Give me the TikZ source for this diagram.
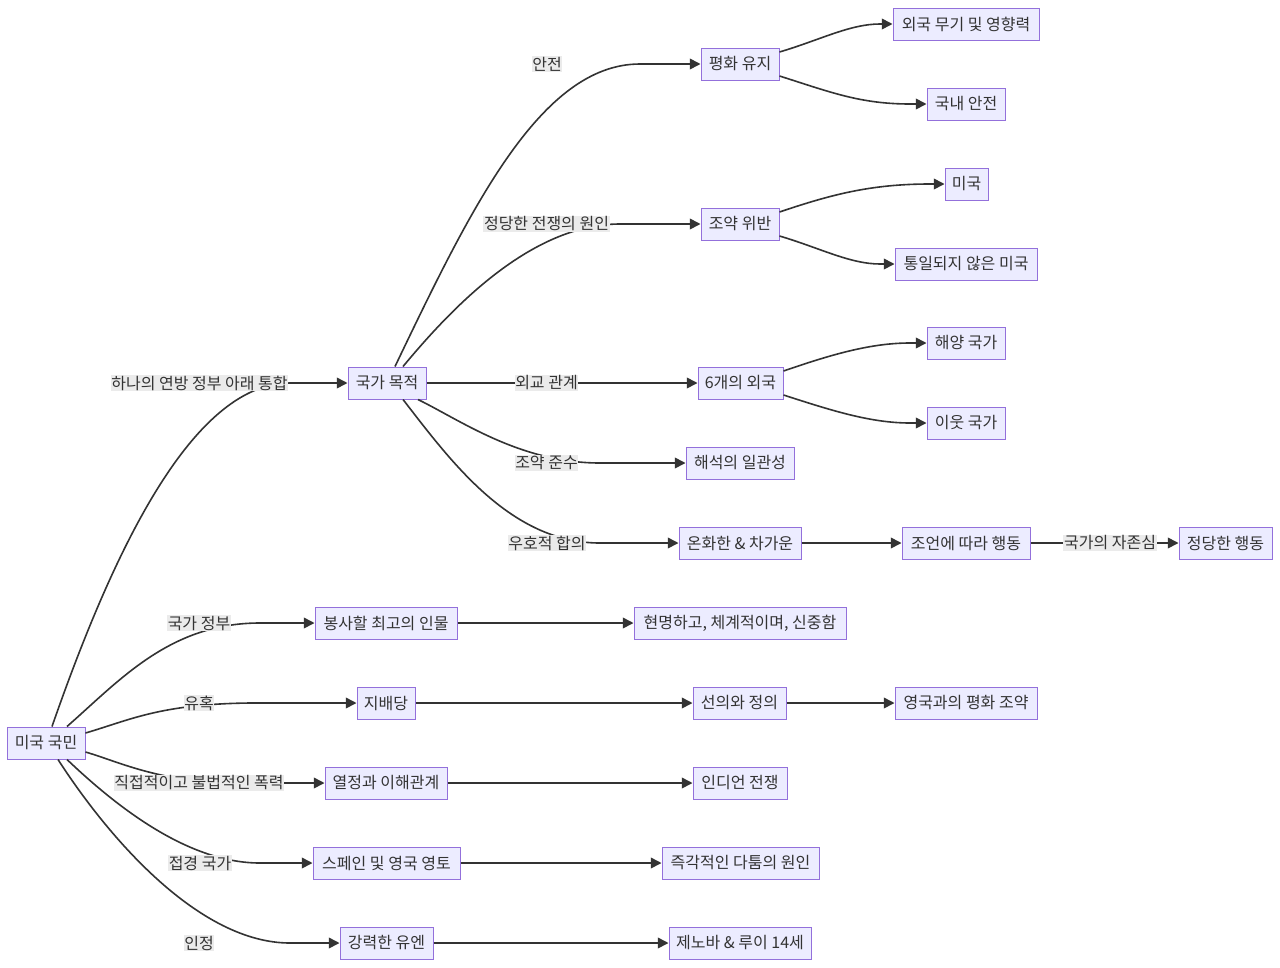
\documentclass[tikz,border=0pt]{standalone}
\usepackage{fontspec}
\setmainfont{Noto Sans CJK KR}
\usetikzlibrary{arrows.meta,calc}
\definecolor{nodefill}{HTML}{ECECFF}
\definecolor{nodeline}{HTML}{9370DB}
\definecolor{ink}{HTML}{333333}
\definecolor{lblbg}{HTML}{EBEBEB}
\tikzset{
  box/.style={draw=nodeline, fill=nodefill, line width=0.75pt, minimum height=24pt, inner sep=0pt, text=ink, font=\fontsize{12pt}{14pt}\selectfont},
  lbl/.style={fill=lblbg, inner sep=0.5pt, text=ink, font=\fontsize{12pt}{14pt}\selectfont},
  edge/.style={draw=ink, line width=1.2pt, -{Triangle[length=8pt,width=8pt]}}
}
\begin{document}
\begin{tikzpicture}[x=0.75pt,y=-0.75pt]
\useasboundingbox[fill=white] (0,0) rectangle (1280,967);
% nodes
\node[box, minimum width=58.5pt] (a) at (46,743) {미국 국민};
\node[box, minimum width=58.5pt] (b) at (387,383) {국가 목적};
\node[box, minimum width=58.5pt] (c1) at (740,64) {평화 유지};
\node[box, minimum width=109.5pt] (c1a) at (966,24) {외국 무기 및 영향력};
\node[box, minimum width=58.5pt] (c1b) at (966,104) {국내 안전};
\node[box, minimum width=58.5pt] (c2) at (740,224) {조약 위반};
\node[box, minimum width=32.25pt] (c2a) at (966.5,184) {미국};
\node[box, minimum width=106.5pt] (c2b) at (966,264) {통일되지 않은 미국};
\node[box, minimum width=63.75pt] (c3) at (740.5,383) {6개의 외국};
\node[box, minimum width=58.5pt] (c3a) at (966,343) {해양 국가};
\node[box, minimum width=58.5pt] (c3b) at (966,423) {이웃 국가};
\node[box, minimum width=81pt] (c4) at (740,463) {해석의 일관성};
\node[box, minimum width=91.5pt] (c5) at (740,543) {온화한 \& 차가운};
\node[box, minimum width=96pt] (c5a) at (966,543) {조언에 따라 행동};
\node[box, minimum width=69.75pt] (c5b) at (1225.5,543) {정당한 행동};
\node[box, minimum width=106.5pt] (d1) at (386,623) {봉사할 최고의 인물};
\node[box, minimum width=159pt] (d1a) at (740,623) {현명하고, 체계적이며, 신중함};
\node[box, minimum width=43.5pt] (e1) at (386,703) {지배당};
\node[box, minimum width=69.75pt] (e1a) at (739.5,703) {선의와 정의};
\node[box, minimum width=106.5pt] (e1b) at (966,703) {영국과의 평화 조약};
\node[box, minimum width=91.5pt] (f1) at (386,783) {열정과 이해관계};
\node[box, minimum width=70.5pt] (f1a) at (740,783) {인디언 전쟁};
\node[box, minimum width=110.25pt] (g1) at (386.5,863) {스페인 및 영국 영토};
\node[box, minimum width=117.75pt] (g1a) at (740.5,863) {즉각적인 다툼의 원인};
\node[box, minimum width=69.75pt] (h1) at (386.5,943) {강력한 유엔};
\node[box, minimum width=106.5pt] (h1a) at (740,943) {제노바 \& 루이 14세};
% edges from a
\draw[edge] ($(a.north)+(6,0)$) .. controls (110,560) and (190,383) .. (290,383) -- (b.west);
\draw[edge] ($(a.north)+(21,0)$) .. controls (120,680) and (170,623) .. (260,623) -- (d1.west);
\draw[edge] ($(a.east)+(0,-10)$) .. controls (130,720) and (160,704) .. (250,703) -- (e1.west);
\draw[edge] ($(a.east)+(0,9)$) .. controls (120,762) and (160,783) .. (240,783) -- (f1.west);
\draw[edge] ($(a.south)+(21,0)$) .. controls (120,810) and (190,863) .. (260,863) -- (g1.west);
\draw[edge] ($(a.south)+(12,0)$) .. controls (110,840) and (200,943) .. (290,943) -- (h1.west);
% edges from b
\draw[edge] ($(b.north)+(8,0)$) .. controls (470,210) and (540,64) .. (640,64) -- (c1.west);
\draw[edge] ($(b.north)+(16,0)$) .. controls (450,310) and (530,224) .. (620,224) -- (c2.west);
\draw[edge] (b.east) -- (c3.west);
\draw[edge] ($(b.south)+(31,0)$) .. controls (460,420) and (520,463) .. (600,463) -- (c4.west);
\draw[edge] ($(b.south)+(16,0)$) .. controls (450,460) and (510,543) .. (600,543) -- (c5.west);
% right side
\draw[edge] ($(c1.east)+(0,-12)$) .. controls (820,40) and (850,24) .. (880,24) -- (c1a.west);
\draw[edge] ($(c1.east)+(0,12)$) .. controls (830,92) and (860,104) .. (910,104) -- (c1b.west);
\draw[edge] ($(c2.east)+(0,-12)$) .. controls (830,195) and (870,184) .. (930,184) -- (c2a.west);
\draw[edge] ($(c2.east)+(0,12)$) .. controls (820,248) and (850,264) .. (880,264) -- (c2b.west);
\draw[edge] ($(c3.east)+(0,-12)$) .. controls (830,355) and (870,343) .. (910,343) -- (c3a.west);
\draw[edge] ($(c3.east)+(0,12)$) .. controls (830,410) and (870,423) .. (910,423) -- (c3b.west);
\draw[edge] (c5.east) -- (c5a.west);
\draw[edge] (c5a.east) -- (c5b.west);
\draw[edge] (d1.east) -- (d1a.west);
\draw[edge] (e1.east) -- (e1a.west);
\draw[edge] (e1a.east) -- (e1b.west);
\draw[edge] (f1.east) -- (f1a.west);
\draw[edge] (g1.east) -- (g1a.west);
\draw[edge] (h1.east) -- (h1a.west);
% labels
\node[lbl] (l1) at (199.5,383) {하나의 연방 정부 아래 통합};
\node[lbl] (l2) at (199,623) {국가 정부};
\node[lbl] (l3) at (199,703) {유혹};
\node[lbl] (l4) at (199,783) {직접적이고 불법적인 폭력};
\node[lbl] (l5) at (200,863) {접경 국가};
\node[lbl] (l6) at (199,943) {인정};
\node[lbl] (l7) at (547,64) {안전};
\node[lbl] (l8) at (546.5,224) {정당한 전쟁의 원인};
\node[lbl] (l9) at (546.5,383) {외교 관계};
\node[lbl] (l10) at (546.5,463) {조약 준수};
\node[lbl] (l11) at (547,543) {우호적 합의};
\node[lbl] (l12) at (1110,543) {국가의 자존심};
\end{tikzpicture}
\end{document}
